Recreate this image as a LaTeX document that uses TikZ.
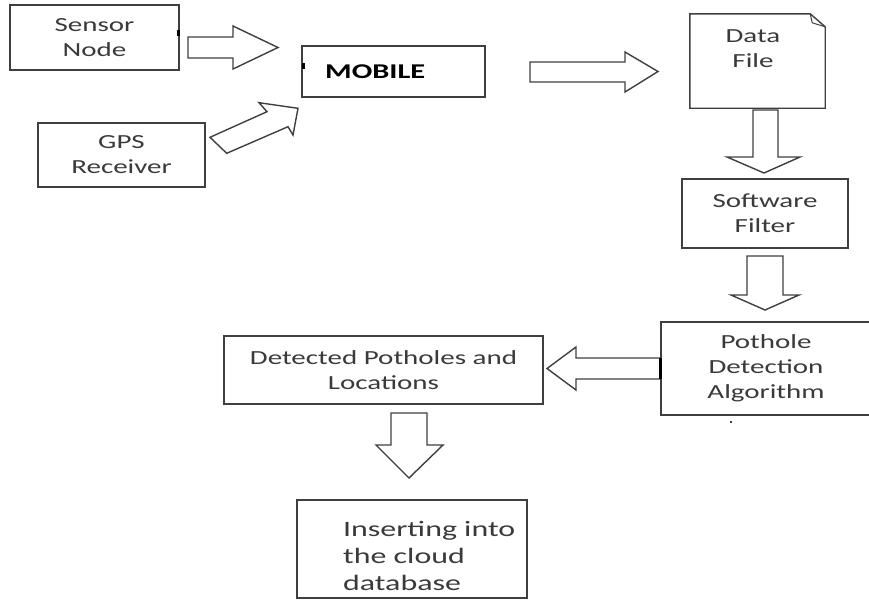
\documentclass[tikz,border=0pt]{standalone}
\usepackage{fontspec}
\setmainfont{Carlito}[FakeStretch=1.45]
\definecolor{lc}{HTML}{3F3F3F}
\definecolor{tc}{HTML}{3A3A3A}
\tikzset{
  box/.style={draw=lc, line width=1.4pt, inner sep=0pt, align=center, text=tc,
    font=\fontsize{20}{25}\selectfont},
  txt/.style={inner sep=0pt, align=left, text=tc, font=\fontsize{20}{25}\selectfont},
  blockarrow/.style={draw=lc, line width=1.4pt, line join=miter, fill=white},
  tick/.style={fill=black, draw=none}
}
\begin{document}
\begin{tikzpicture}[x=1pt,y=-1pt]
\useasboundingbox (0,0) rectangle (869,606);
\fill[white] (0,0) rectangle (869,606);

% boxes
\node[box, minimum width=169pt, minimum height=65pt] (sensor) at (94.5,37.5) {Sensor\\Node};
\node[box, minimum width=167pt, minimum height=64pt] (gps) at (121.5,155) {GPS\\Receiver};
\node[box, minimum width=183pt, minimum height=51pt] (mobile) at (393.5,71.5) {};
\node[txt, anchor=west, font=\fontsize{21}{25}\selectfont\bfseries, text=black] (mobiletext) at (325,72) {MOBILE};

\node[inner sep=0pt, minimum width=135pt, minimum height=94pt] (data) at (757.5,61) {};
\draw[draw=lc, line width=1.4pt, line join=miter]
  (data.north west) -- ([xshift=-15pt]data.north east) -- ([yshift=-13pt]data.north east)
  -- (data.south east) -- (data.south west) -- cycle;
\draw[draw=lc, line width=1pt] ([xshift=-15pt]data.north east) -- ([xshift=-13pt,yshift=-9pt]data.north east) -- ([yshift=-13pt]data.north east);
\node[txt, align=center] (datatext) at (753,48.5) {Data\\File};

\node[box, minimum width=166pt, minimum height=69pt] (filter) at (765,213.5) {Software\\Filter};
\node[box, minimum width=210pt, minimum height=93pt] (pothole) at (766,368.5) {Pothole\\Detection\\Algorithm};
\node[box, minimum width=319pt, minimum height=68pt] (detected) at (383.5,370) {Detected Potholes and\\Locations};
\node[box, minimum width=230pt, minimum height=98pt] (insert) at (412,549) {};
\node[txt, anchor=west, font=\fontsize{22}{27}\selectfont] (inserttext) at (343,556) {Inserting into\\the cloud\\database};

% block arrows
\draw[blockarrow] (188,37) -- (233,37) -- (233,26) -- (278,47.5) -- (233,69) -- (233,58) -- (188,58) -- cycle;
\draw[blockarrow] (210,137.3) -- (267,111.7) -- (259,102.7) -- (298,108.3) -- (293,135) -- (288,126.7) -- (226.7,153.3) -- cycle;
\draw[blockarrow] (530,62) -- (625,62) -- (625,52) -- (658,71.5) -- (625,92) -- (625,82) -- (530,82) -- cycle;
\draw[blockarrow] (753,110) -- (778,110) -- (778,157) -- (800,157) -- (764,173) -- (727,157) -- (753,157) -- cycle;
\draw[blockarrow] (747,256) -- (783,256) -- (783,295) -- (799,295) -- (765,310) -- (731,295) -- (747,295) -- cycle;
\draw[blockarrow] (pothole.west |- 0,358) -- (576,358) -- (576,347) -- (547,368.5) -- (576,390) -- (576,379) -- (pothole.west |- 0,379) -- cycle;
\draw[line width=3pt, draw=black] (pothole.west |- 0,358) -- (pothole.west |- 0,379);
\draw[blockarrow] (391,413) -- (427,413) -- (427,445) -- (443,445) -- (409,478) -- (376,445) -- (391,445) -- cycle;

% small marks
\fill[tick] (176.5,30) rectangle (179.5,36);
\fill[tick] (301.5,63) rectangle (304.5,69);
\fill[tick, fill=lc] (730,421) rectangle (732,423);
\end{tikzpicture}
\end{document}
